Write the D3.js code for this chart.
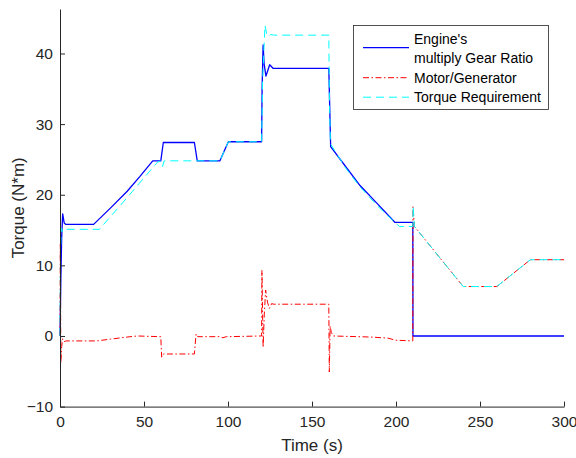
<!DOCTYPE html>
<html>
<head>
<meta charset="utf-8">
<script src="https://cdn.jsdelivr.net/npm/d3@7"></script>
<style>
  html, body { margin: 0; padding: 0; background: #fff; }
  svg { display: block; font-family: "Liberation Sans", Arial, Helvetica, sans-serif; }
</style>
</head>
<body>
<svg id="chart" width="576" height="458"></svg>
<script>
// Engine torque multiplied by gear ratio
const engineTime = [0, 0.5, 1.0, 1.6, 2.5, 3.5, 20, 30, 40, 47.6, 55.2, 60, 61.5, 80, 81.7, 95.2, 100.2, 120,
  120.3, 120.9, 121.5, 122.6, 124.8, 126.8, 160, 161.1, 170, 178.6, 189, 199.3, 210, 210.1, 300];
const engineTorque = [0, 8, 14, 17.3, 16.0, 15.8, 15.8, 18.1, 20.5, 22.6, 24.8, 24.8, 27.4, 27.4, 24.8, 24.8, 27.5, 27.5,
  35, 41.2, 38.5, 36.8, 38.4, 37.9, 37.9, 26.8, 24.0, 21.3, 18.7, 16.1, 16.1, 0, 0];

// Motor/Generator torque
const motorTime = [0, 0.2, 0.5, 1.0, 1.6, 2.5, 3.5, 21.8, 30, 40, 46, 60, 60.5, 61.5, 80, 81, 82, 95, 97, 99, 120,
  120.2, 120.9, 121.6, 122.4, 123.5, 124.6, 126, 127, 160, 160.3, 160.8, 161.5, 162.7, 185, 195, 200, 210,
  210.1, 211, 240, 260, 280, 300];
const motorTorque = [0, 13, -3.8, -1.5, -0.4, -0.8, -0.7, -0.7, -0.45, -0.15, 0, -0.1, -3.0, -2.55, -2.55, 0.3, -0.1, -0.1, -0.25, -0.1, 0,
  9.3, -1.6, 3.0, 6.5, 4.8, 3.9, 4.6, 4.5, 4.5, -5.1, 1.4, 0.5, 0, -0.15, -0.3, -0.6, -0.7,
  18.3, 15.5, 7.0, 7.0, 10.8, 10.8];

// Torque requirement
const reqTime = [0, 0.3, 0.8, 1.5, 2.5, 23.5, 30, 40, 50, 58, 60, 61, 62, 95.2, 100.2, 120,
  120.6, 122, 123, 124, 125.5, 127, 160, 160.4, 161, 170, 178.6, 189, 202, 210, 210.2, 211, 240, 260, 280, 300];
const reqTorque = [0, 12, 15.3, 14.8, 15.1, 15.1, 16.9, 19.6, 22.4, 24.6, 24.8, 24.0, 24.8, 24.8, 27.5, 27.5,
  36, 44, 42.8, 42.4, 42.7, 42.6, 42.6, 33, 27.2, 23.8, 21.1, 18.4, 15.5, 15.5, 18.4, 15.5, 7.0, 7.0, 10.8, 10.8];

const xTicks = [0, 50, 100, 150, 200, 250, 300];
const yTicks = [-10, 0, 10, 20, 30, 40];

const seriesNames = ["Engine's", "multiply Gear Ratio", "Motor/Generator", "Torque Requirement"];

const svg = d3.select("#chart");
const axisColor = "#262626";

const x = d3.scaleLinear().domain([0, 300]).range([60, 564]);
const y = d3.scaleLinear().domain([-10, 46.3]).range([406.6, 9]);

const line = d3.line().x(d => x(d[0])).y(d => y(d[1]));
const zip = (t, v) => t.map((ti, i) => [ti, v[i]]);

const series = [
  { data: zip(engineTime, engineTorque), color: "#0000ff", width: 1.3, dash: null },
  { data: zip(motorTime, motorTorque), color: "#ff0000", width: 1.0, dash: "6,2.5,1.5,2.5" },
  { data: zip(reqTime, reqTorque), color: "#00ffff", width: 1.0, dash: "8,5" }
];

const plot = svg.append("g");
series.forEach(s => {
  plot.append("path")
    .datum(s.data)
    .attr("fill", "none")
    .attr("stroke", s.color)
    .attr("stroke-width", s.width)
    .attr("stroke-dasharray", s.dash)
    .attr("stroke-linejoin", "round")
    .attr("d", line);
});

// Axes with inward ticks
const xAxis = svg.append("g")
  .attr("transform", `translate(0,${y(-10)})`)
  .call(d3.axisBottom(x).tickValues(xTicks).tickSizeInner(-5).tickSizeOuter(0).tickPadding(9));
const yAxis = svg.append("g")
  .attr("transform", `translate(${x(0)},0)`)
  .call(d3.axisLeft(y).tickValues(yTicks).tickSizeInner(-5).tickSizeOuter(0).tickPadding(7));

[xAxis, yAxis].forEach(a => {
  a.select(".domain").attr("stroke", axisColor).attr("stroke-width", 1);
  a.selectAll(".tick line").attr("stroke", axisColor).attr("stroke-width", 1);
  a.selectAll(".tick text")
    .attr("fill", axisColor)
    .style("font-size", "15.5px")
    .style("font-family", "'Liberation Sans', Arial, sans-serif");
});

// Axis titles
svg.append("text")
  .attr("x", x(150)).attr("y", 451)
  .attr("text-anchor", "middle")
  .attr("fill", axisColor)
  .style("font-size", "17px")
  .text("Time (s)");

svg.append("text")
  .attr("transform", `translate(24,${(y(-10) + y(46.3)) / 2}) rotate(-90)`)
  .attr("text-anchor", "middle")
  .attr("fill", axisColor)
  .style("font-size", "17px")
  .text("Torque (N*m)");

// Legend
const legend = svg.append("g");
legend.append("rect")
  .attr("x", 353.5).attr("y", 25.5)
  .attr("width", 195).attr("height", 84)
  .attr("fill", "#fff")
  .attr("stroke", axisColor)
  .attr("stroke-width", 0.8);

const legendRows = [
  { text: seriesNames[0], yc: 39.5, s: null },
  { text: seriesNames[1], yc: 58.5, s: null },
  { text: seriesNames[2], yc: 77.7, s: series[1] },
  { text: seriesNames[3], yc: 97.2, s: series[2] }
];
legend.append("line")
  .attr("x1", 363).attr("x2", 409).attr("y1", 47.7).attr("y2", 47.7)
  .attr("stroke", series[0].color).attr("stroke-width", series[0].width);
legendRows.forEach(r => {
  if (r.s) {
    legend.append("line")
      .attr("x1", 363).attr("x2", 409).attr("y1", r.yc).attr("y2", r.yc)
      .attr("stroke", r.s.color).attr("stroke-width", r.s.width)
      .attr("stroke-dasharray", r.s.dash);
  }
  legend.append("text")
    .attr("x", 414).attr("y", r.yc)
    .attr("dy", "0.35em")
    .attr("fill", "#000")
    .style("font-size", "14px")
    .text(r.text);
});
</script>
</body>
</html>
